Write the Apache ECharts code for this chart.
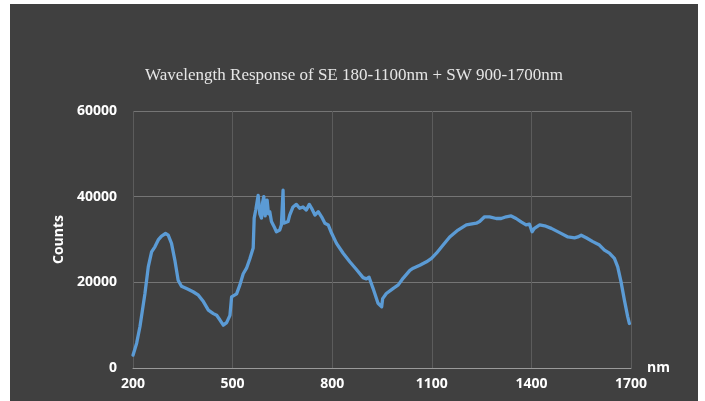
<!DOCTYPE html>
<html>
<head>
<meta charset="utf-8">
<script src="https://cdn.jsdelivr.net/npm/echarts@6/dist/echarts.min.js"></script>
<style>
  html, body { margin: 0; padding: 0; background: #ffffff; }
  #chart {
    position: absolute;
    left: 10px;
    top: 4px;
    width: 688px;
    height: 397px;
    background: #404040;
  }
</style>
</head>
<body>
<div id="chart"></div>
<script>
// wavelength (nm) and counts
const wavelength = [
  200, 211, 221, 236, 246, 256, 266, 276, 286, 298, 306, 316, 326, 336, 346, 366, 381, 397,
  412, 427, 442, 452, 462, 472, 482, 492, 497, 512, 522, 532, 542, 552, 562, 565, 570, 577,
  582, 587, 590, 594, 598, 600, 604, 608, 612, 617, 625, 632, 642, 647, 650, 652, 654, 660,
  667, 672, 682, 692, 702, 712, 722, 731, 738, 748, 758, 768, 778, 788, 798, 813, 833, 853,
  873, 893, 903, 911, 923, 938, 949, 952, 963, 984, 999, 1014, 1034, 1044, 1064, 1084, 1099,
  1114, 1134, 1154, 1179, 1204, 1234, 1244, 1259, 1274, 1294, 1309, 1324, 1339, 1354, 1369,
  1384, 1394, 1402, 1409, 1425, 1440, 1460, 1485, 1510, 1530, 1540, 1550, 1565, 1585, 1605,
  1620, 1635, 1650, 1660, 1670, 1680, 1690, 1695
]
const counts = [
  3000, 5800, 9700, 17400, 23600, 27100, 28300, 29900, 30800, 31400, 31000, 29100, 25200, 20500, 19100, 18400, 17800, 17000,
  15500, 13500, 12700, 12300, 11200, 10000, 10600, 12300, 16600, 17300, 19400, 22000, 23300, 25500, 28000, 35000, 37000, 40300,
  36000, 35000, 38500, 40000, 35500, 35200, 39200, 36000, 36500, 34200, 33000, 31800, 32200, 33400, 33500, 41500, 33800, 33600,
  34200, 35700, 37600, 38200, 37300, 37600, 36900, 38200, 37300, 35700, 36500, 35300, 33800, 33400, 31500, 29100, 26800, 24800,
  23000, 21100, 20800, 21200, 18600, 15100, 14300, 16200, 17400, 18600, 19400, 21000, 22800, 23300, 24000, 24800, 25600,
  26800, 28700, 30600, 32200, 33400, 33800, 34200, 35300, 35300, 34900, 34900, 35300, 35500, 34900, 34100,
  33400, 33600, 31800, 32600, 33400, 33200, 32600, 31600, 30600, 30400, 30600, 31000, 30400, 29500, 28700,
  27500, 26800, 25600, 23600, 20100, 15900, 12000, 10400
]

const titleText = 'Wavelength Response of SE 180-1100nm + SW 900-1700nm'

const chart = echarts.init(document.getElementById('chart'))

chart.setOption({
  backgroundColor: '#404040',
  animation: false,
  title: {
    text: titleText,
    left: 'center',
    top: 58,
    textStyle: {
      fontFamily: 'Liberation Serif',
      fontWeight: 'normal',
      fontSize: 17,
      color: '#e6e6e6'
    }
  },
  grid: {
    left: 123,
    right: 67,
    top: 107,
    bottom: 33
  },
  xAxis: {
    type: 'value',
    min: 200,
    max: 1700,
    interval: 300,
    name: 'nm',
    nameLocation: 'end',
    nameGap: 16,
    nameTextStyle: {
      color: '#ffffff',
      fontFamily: 'Open Sans',
      fontWeight: 'bold',
      fontSize: 14,
      padding: [12, 0, 0, 0]
    },
    axisLine: { show: true, lineStyle: { color: '#9a9a9a', width: 1 } },
    axisTick: { show: false },
    axisLabel: {
      color: '#ffffff',
      fontFamily: 'Open Sans',
      fontWeight: 'bold',
      fontSize: 14,
      margin: 9,
      formatter: (v) => String(v)
    },
    splitLine: { show: true, lineStyle: { color: '#5c5c5c', width: 1 } }
  },
  yAxis: {
    type: 'value',
    min: 0,
    max: 60000,
    interval: 20000,
    name: 'Counts',
    nameLocation: 'middle',
    nameGap: 62,
    nameRotate: 90,
    nameTextStyle: {
      color: '#ffffff',
      fontFamily: 'Open Sans',
      fontWeight: 'bold',
      fontSize: 14
    },
    axisLine: { show: false },
    axisTick: { show: false },
    axisLabel: {
      color: '#ffffff',
      fontFamily: 'Open Sans',
      fontWeight: 'bold',
      fontSize: 14,
      margin: 16,
      formatter: (v) => String(v)
    },
    splitLine: { show: true, lineStyle: { color: '#757575', width: 1 } }
  },
  series: [
    {
      type: 'line',
      data: wavelength.map((w, i) => [w, counts[i]]),
      showSymbol: false,
      smooth: false,
      lineStyle: { color: '#5b9bd5', width: 3.3, join: 'round', cap: 'round' }
    }
  ]
})
</script>
</body>
</html>
